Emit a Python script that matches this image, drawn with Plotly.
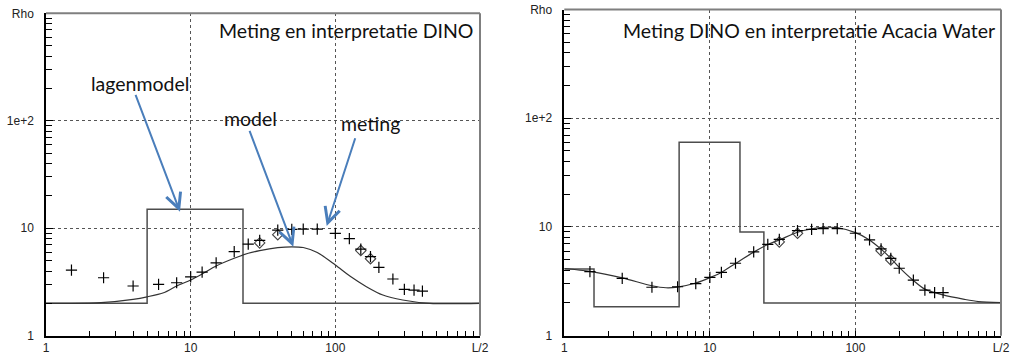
import math
import plotly.graph_objects as go

# ---------------- data ----------------
# left panel: "Meting en interpretatie DINO"
meas_x = [1.5, 2.5, 4, 6, 8, 10, 12, 15, 20, 25, 30, 40, 50, 60, 75, 100, 125, 150, 175, 200, 250, 300, 350, 400]
left_meas_y = [4.08, 3.46, 2.9, 3.0, 3.11, 3.52, 3.91, 4.77, 6.05, 7.1, 7.7, 9.6, 9.75, 9.8, 9.8, 8.97, 8.0, 6.4, 5.45, 4.33, 3.37, 2.7, 2.66, 2.6]
diam_x = [30, 40, 150, 175]
left_diam_y = [7.3, 8.7, 6.2, 5.2]
left_layer_x = [1, 5, 23, 1000]
left_layer_rho = [2.0, 15.0, 2.0, 2.0]
left_model_x = [1, 1.4, 2.4, 4, 5, 6.5, 8, 10, 12, 15, 20, 25, 30, 40, 50, 60, 75, 100, 126, 164, 213, 292, 450, 1000]
left_model_y = [2.0, 2.0, 2.03, 2.18, 2.3, 2.51, 2.9, 3.3, 3.75, 4.45, 5.25, 5.85, 6.2, 6.6, 6.72, 6.62, 5.95, 4.55, 3.59, 2.86, 2.39, 2.15, 2.0, 2.0]

# right panel: "Meting DINO en interpretatie Acacia Water"
right_meas_y = [3.88, 3.37, 2.79, 2.82, 3.01, 3.44, 3.83, 4.64, 5.89, 6.93, 7.7, 9.25, 9.52, 9.64, 9.64, 8.75, 7.6, 6.28, 5.15, 4.17, 3.25, 2.63, 2.49, 2.49]
right_diam_y = [7.28, 8.75, 6.05, 4.97]
right_layer_x = [1, 1.6, 6.15, 16.1, 23.5, 1000]
right_layer_rho = [4.1, 1.85, 60.0, 9.0, 2.0, 2.0]
right_model_x = [1, 1.5, 2.5, 4, 5, 6, 8, 10, 12, 15, 20, 25, 30, 40, 50, 60, 75, 100, 125, 150, 175, 200, 250, 300, 400, 560, 700, 1000]
right_model_y = [4.15, 3.9, 3.4, 2.88, 2.76, 2.8, 3.05, 3.42, 3.82, 4.62, 5.87, 6.9, 7.6, 8.95, 9.6, 9.9, 9.85, 8.86, 7.6, 6.25, 5.15, 4.25, 3.22, 2.68, 2.37, 2.16, 2.06, 2.02]

x_tickvals = [1, 10, 100, 1000]
x_ticktext = ["1", "10", "100", "L/2"]
y_tickvals = [1, 10, 100, 1000]
y_ticktext = ["1", "10", "1e+2", "Rho"]
minor_vals = [m * d for d in (1, 10, 100) for m in range(2, 10)]

titles = ["Meting en interpretatie DINO", "Meting DINO en interpretatie Acacia Water"]

# ---------------- figure ----------------
W, H = 1011, 355
fig = go.Figure()

MEAS_STYLE = dict(symbol="cross-thin", size=8, line=dict(color="#000000", width=1.2))
DIAM_STYLE = dict(symbol="diamond-open", size=8, color="#444444", line=dict(color="#444444", width=1.1))

panels = [
    ("x", "y", left_layer_x, left_layer_rho, left_model_x, left_model_y, left_meas_y, left_diam_y),
    ("x2", "y2", right_layer_x, right_layer_rho, right_model_x, right_model_y, right_meas_y, right_diam_y),
]
for xa, ya, lx, lr, mx, my, ms, ds in panels:
    fig.add_trace(go.Scatter(x=lx, y=lr, mode="lines", line=dict(color="#4d4d4d", width=1.5, shape="hv"),
                             xaxis=xa, yaxis=ya, showlegend=False, hoverinfo="skip"))
    fig.add_trace(go.Scatter(x=mx, y=my, mode="lines", line=dict(color="#333333", width=1.2, shape="spline", smoothing=0.8),
                             xaxis=xa, yaxis=ya, showlegend=False))
    fig.add_trace(go.Scatter(x=diam_x, y=ds, mode="markers", marker=DIAM_STYLE,
                             xaxis=xa, yaxis=ya, showlegend=False))
    fig.add_trace(go.Scatter(x=meas_x, y=ms, mode="markers", marker=MEAS_STYLE,
                             xaxis=xa, yaxis=ya, showlegend=False))

tickfont = dict(family="Liberation Sans, Arial, sans-serif", size=12, color="#222222")

def xaxis_cfg(domain, anchor):
    return dict(type="log", range=[0, 3], domain=domain, anchor=anchor,
                tickvals=x_tickvals, ticktext=x_ticktext, ticks="inside", ticklen=5,
                tickcolor="#000000", tickwidth=1, tickfont=tickfont, ticklabelstandoff=0,
                showline=True, linecolor="#000000", linewidth=1.5, mirror=False,
                showgrid=True, gridcolor="#555555", griddash="dot", gridwidth=1,
                minor=dict(tickvals=minor_vals, ticks="inside", ticklen=5, tickcolor="#000000", showgrid=False),
                automargin=False, zeroline=False)

def yaxis_cfg(domain, anchor):
    return dict(type="log", range=[0, 3], domain=domain, anchor=anchor,
                tickvals=y_tickvals, ticktext=y_ticktext, ticks="inside", ticklen=7,
                tickcolor="#000000", tickwidth=1, tickfont=tickfont, ticklabelstandoff=8,
                showline=True, linecolor="#000000", linewidth=1.5, mirror=False,
                showgrid=True, gridcolor="#555555", griddash="dot", gridwidth=1,
                minor=dict(tickvals=minor_vals, ticks="inside", ticklen=6, tickcolor="#000000", showgrid=False),
                automargin=False, zeroline=False)

fig.update_layout(
    width=W, height=H,
    margin=dict(l=0, r=0, t=0, b=0),
    paper_bgcolor="white", plot_bgcolor="white",
    xaxis=xaxis_cfg([46 / W, 480 / W], "y"),
    yaxis=yaxis_cfg([1 - 335.7 / H, 1 - 13.3 / H], "x"),
    xaxis2=xaxis_cfg([564.3 / W, 1001 / W], "y2"),
    yaxis2=yaxis_cfg([1 - 335.7 / H, 1 - 9.5 / H], "x2"),
)

# gray top / right borders
shapes = []
for xd, yd in (("x domain", "y domain"), ("x2 domain", "y2 domain")):
    shapes.append(dict(type="line", xref=xd, yref=yd, x0=0, x1=1, y0=1, y1=1, line=dict(color="#7f7f7f", width=2)))
    shapes.append(dict(type="line", xref=xd, yref=yd, x0=1, x1=1, y0=0, y1=1, line=dict(color="#7f7f7f", width=2)))
fig.update_layout(shapes=shapes)

txtfont = dict(family="Lato, Open Sans, sans-serif", size=19.5, color="#111111")
annotations = [
    dict(text=titles[0], xref="paper", yref="paper", x=475 / W, y=1 - 30 / H, xanchor="right", yanchor="middle",
         showarrow=False, font=txtfont),
    dict(text=titles[1], xref="paper", yref="paper", x=997 / W, y=1 - 30 / H, xanchor="right", yanchor="middle",
         showarrow=False, font=txtfont),
    dict(text="lagenmodel", xref="paper", yref="paper", x=139.5 / W, y=1 - 83 / H, xanchor="center", yanchor="middle",
         showarrow=False, font=txtfont),
    dict(text="model", xref="paper", yref="paper", x=250.8 / W, y=1 - 118 / H, xanchor="center", yanchor="middle",
         showarrow=False, font=txtfont),
    dict(text="meting", xref="paper", yref="paper", x=370.8 / W, y=1 - 124 / H, xanchor="center", yanchor="middle",
         showarrow=False, font=txtfont),
]
arrows = [((180, 211.7), (135, 93.3)), ((293.3, 246.7), (249, 129.3)), ((326.7, 226), (355.7, 136.7))]
for (hx, hy), (tx, ty) in arrows:
    annotations.append(dict(text="", xref="paper", yref="paper", x=hx / W, y=1 - hy / H,
                            ax=tx - hx, ay=ty - hy, showarrow=True, arrowhead=5, arrowsize=1.5,
                            arrowwidth=2, arrowcolor="#4a7ebb", standoff=0, startstandoff=0))
fig.update_layout(annotations=annotations)

fig.write_html("out.html", config={"displayModeBar": False},
               post_script="document.body.style.margin='0';document.body.style.padding='0';document.body.style.overflow='hidden';")
